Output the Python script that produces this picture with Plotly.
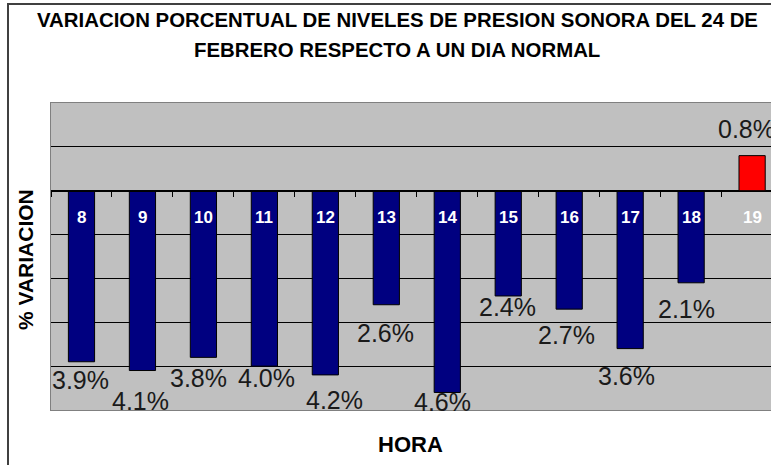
import plotly.graph_objects as go

# Hourly percentage variation of sound pressure level (24 Feb vs a normal day)
horas = ["8", "9", "10", "11", "12", "13", "14", "15", "16", "17", "18", "19"]
variacion = [-3.9, -4.1, -3.8, -4.0, -4.2, -2.6, -4.6, -2.4, -2.7, -3.6, -2.1, 0.8]

# Pixel nudges for the value labels so neighbouring labels do not collide
label_dx = [-1, -2, -5, 2, 9, -1, -5, -1, -3, -4, -5, -6]
label_dy = [-18, -30, -21, -12, -25, -28, -10, -11, -26, -27, -26, 27]

FONT = "Arial, Liberation Sans, sans-serif"
W, H = 771, 465
L, R, T, B = 51, 0, 103, 55
plot_w = W - L - R
plot_h = H - T - B
YMIN, YMAX = -5, 2
XMIN, XMAX = -0.5, 11.31

xs = list(range(len(horas)))
colors = ["#FF0000" if v > 0 else "#000080" for v in variacion]

fig = go.Figure()
fig.add_trace(go.Bar(
    x=xs, y=variacion, width=0.43,
    marker=dict(color=colors, line=dict(color="#000000", width=1)),
    hoverinfo="skip", showlegend=False,
))
# helper trace so the category-axis line at y=0 gets drawn
fig.add_trace(go.Scatter(x=[0], y=[0], mode="none", xaxis="x2",
                         hoverinfo="skip", showlegend=False))

annotations = []
# hour labels just under the zero line
for i, h in enumerate(horas):
    annotations.append(dict(
        x=i, y=0, xref="x", yref="y", text=f"<b>{h}</b>", showarrow=False,
        xanchor="center", yanchor="middle", yshift=-27,
        font=dict(family=FONT, size=17, color="#FFFFFF"),
    ))
# value labels
for i, v in enumerate(variacion):
    annotations.append(dict(
        x=i, y=v, xref="x", yref="y", text=f"{abs(v):.1f}%", showarrow=False,
        xanchor="center", yanchor="middle",
        xshift=label_dx[i], yshift=label_dy[i],
        font=dict(family=FONT, size=25, color="#1a1a1a"),
    ))


def px_x(p):
    return (p - L) / plot_w


def px_y(p):
    return (H - B - p) / plot_h


def paper_text(x, y, text, size, angle=0):
    return dict(x=px_x(x), y=px_y(y), xref="paper", yref="paper",
                showarrow=False, xanchor="center", yanchor="middle",
                text=text, textangle=angle,
                font=dict(family=FONT, size=size, color="#000000"))


annotations += [
    paper_text(397, 20, "<b>VARIACION PORCENTUAL DE NIVELES DE PRESION SONORA DEL 24 DE</b>", 20.4),
    paper_text(397, 50, "<b>FEBRERO RESPECTO A UN DIA NORMAL</b>", 20.4),
    paper_text(25, 260, "<b>% VARIACION</b>", 21, angle=-90),
    paper_text(410, 444, "<b>HORA</b>", 22),
]

fig.update_layout(
    width=W, height=H,
    margin=dict(l=L, r=R, t=T, b=B, pad=0),
    paper_bgcolor="#FFFFFF", plot_bgcolor="#C0C0C0",
    annotations=annotations,
    xaxis=dict(range=[XMIN, XMAX], showgrid=False, zeroline=False,
               showticklabels=False, ticks="", showline=True, mirror=True,
               linecolor="#808080", linewidth=1),
    xaxis2=dict(range=[XMIN, XMAX], overlaying="x", anchor="free",
                position=(0 - YMIN) / (YMAX - YMIN), side="bottom",
                showline=True, linecolor="#000000", linewidth=1,
                ticks="outside", ticklen=5, tickcolor="#000000", tickwidth=1,
                tickvals=[k - 0.5 for k in range(len(horas))],
                showticklabels=False, showgrid=False, zeroline=False),
    yaxis=dict(range=[YMIN, YMAX], tickvals=[-4, -3, -2, -1, 0, 1],
               showticklabels=False, ticks="", showgrid=True,
               gridcolor="#000000", gridwidth=1, zeroline=False,
               showline=True, mirror=True, linecolor="#808080", linewidth=1),
    shapes=[dict(type="rect", xref="paper", yref="paper",
                 x0=px_x(8), x1=px_x(W + 20), y0=px_y(H + 20), y1=px_y(4),
                 line=dict(color="#404040", width=2), layer="below")],
)

fig.write_html("out.html")
